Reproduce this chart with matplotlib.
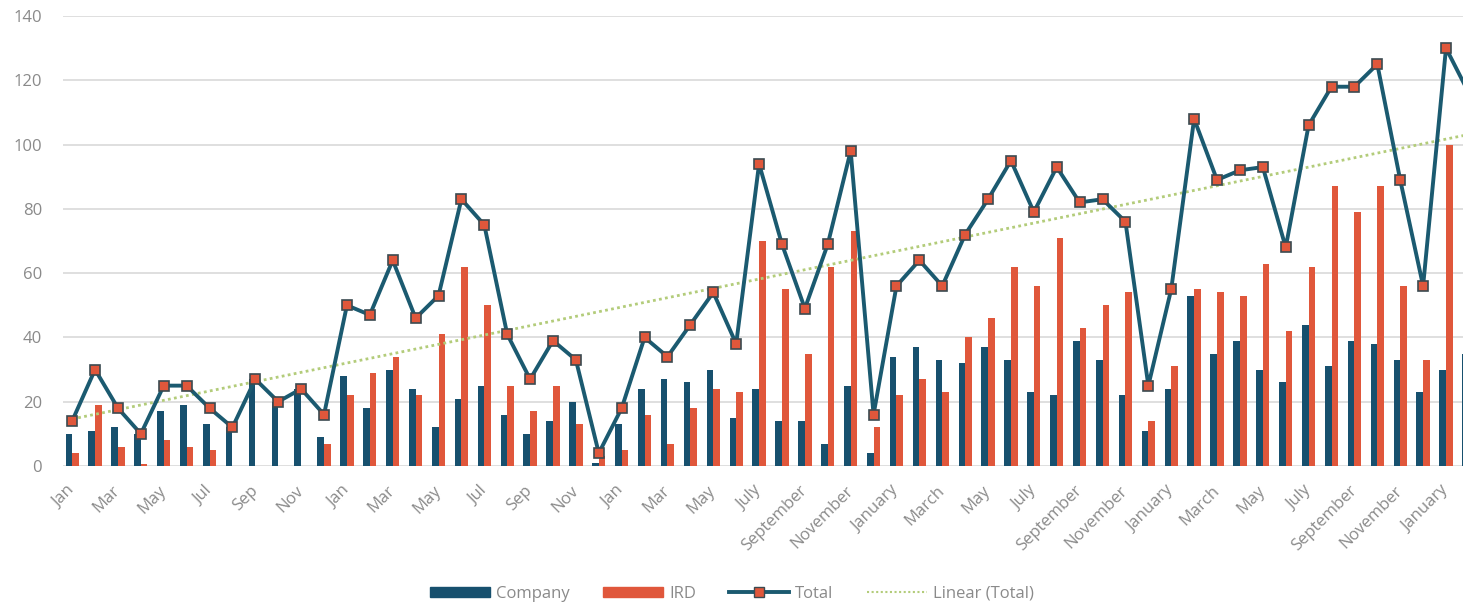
# Monthly counts: Company vs IRD, with Total line and linear trend
import numpy as np
import matplotlib.pyplot as plt
from matplotlib.lines import Line2D
from matplotlib.patches import Patch

plt.rcParams['font.family'] = ['Open Sans', 'DejaVu Sans']

# ------------------------------------------------------------------
# Data (62 months; the last one is cut off)
# ------------------------------------------------------------------
months_short = ['Jan', 'Feb', 'Mar', 'Apr', 'May', 'Jun',
                'Jul', 'Aug', 'Sep', 'Oct', 'Nov', 'Dec']
months_mixed = ['Jan', 'Feb', 'Mar', 'Apr', 'May', 'Jun',
                'July', 'August', 'September', 'October', 'November', 'December']
months_long = ['January', 'February', 'March', 'April', 'May', 'June',
               'July', 'August', 'September', 'October', 'November', 'December']
month_labels = (months_short * 2 + months_mixed + months_long * 2
                + ['January', 'February'])

company = [10, 11, 12, 10, 17, 19, 13, 12, 27, 20, 24, 9,
           28, 18, 30, 24, 12, 21, 25, 16, 10, 14, 20, 1,
           13, 24, 27, 26, 30, 15, 24, 14, 14, 7, 25, 4,
           34, 37, 33, 32, 37, 33, 23, 22, 39, 33, 22, 11,
           24, 53, 35, 39, 30, 26, 44, 31, 39, 38, 33, 23,
           30, 35]

ird = [4, 19, 6, 0.5, 8, 6, 5, 0, 0, 0, 0, 7,
       22, 29, 34, 22, 41, 62, 50, 25, 17, 25, 13, 3,
       5, 16, 7, 18, 24, 23, 70, 55, 35, 62, 73, 12,
       22, 27, 23, 40, 46, 62, 56, 71, 43, 50, 54, 14,
       31, 55, 54, 53, 63, 42, 62, 87, 79, 87, 56, 33,
       100, 81]

total = [14, 30, 18, 10, 25, 25, 18, 12, 27, 20, 24, 16,
         50, 47, 64, 46, 53, 83, 75, 41, 27, 39, 33, 4,
         18, 40, 34, 44, 54, 38, 94, 69, 49, 69, 98, 16,
         56, 64, 56, 72, 83, 95, 79, 93, 82, 83, 76, 25,
         55, 108, 89, 92, 93, 68, 106, 118, 118, 125, 89, 56,
         130, 116]

# ------------------------------------------------------------------
# Styling
# ------------------------------------------------------------------
c_company = '#17506e'
c_ird = '#e0573b'
c_line = '#1b5a70'
c_marker = '#e0573b'
c_trend = '#b3cc7a'
c_text = '#8a8a8a'
c_grid = '#d9d9d9'

x = np.arange(len(total))
bw = 0.29

# linear trendline of Total (Excel-style "Linear (Total)")
slope, icept = np.polyfit(x, total, 1)
trend = slope * x + icept

fig = plt.figure(figsize=(14.63, 6.06), dpi=100)
ax = fig.add_axes([63 / 1463, 140 / 606, 1 - 63 / 1463, 450 / 606])

ax.bar(x - bw / 2, company, width=bw, color=c_company, zorder=2)
ax.bar(x + bw / 2, ird, width=bw, color=c_ird, zorder=2)
ax.plot(x, trend, color=c_trend, linestyle=(0, (1, 1.2)), linewidth=2, zorder=3)
ax.plot(x, total, color=c_line, linewidth=2.8, marker='s', markersize=7,
        markerfacecolor=c_marker, markeredgecolor='#3b4a50', markeredgewidth=1.2,
        zorder=4)

ax.set_ylim(0, 140)
ax.set_yticks(np.arange(0, 141, 20))
ax.set_xlim(-0.4, (1463 - 72) / 22.9)
ax.set_xticks(x[::2])
ax.set_xticklabels(month_labels[::2], rotation=45, ha='right', va='center',
                   rotation_mode='anchor')

ax.grid(axis='y', color=c_grid, linewidth=1.2, zorder=0)
ax.set_axisbelow(True)
for s in ax.spines.values():
    s.set_visible(False)
ax.tick_params(axis='y', length=0, pad=15, labelsize=12, labelcolor=c_text)
ax.tick_params(axis='x', length=0, pad=16, labelsize=12, labelcolor=c_text)

handles = [
    Patch(color=c_company),
    Patch(color=c_ird),
    Line2D([], [], color=c_line, linewidth=2.8, marker='s', markersize=7,
           markerfacecolor=c_marker, markeredgecolor='#3b4a50'),
    Line2D([], [], color=c_trend, linestyle=(0, (1, 1.2)), linewidth=1.5),
]
fig.legend(handles, ['Company', 'IRD', 'Total', 'Linear (Total)'],
           loc='center', bbox_to_anchor=(732 / 1463, 1 - 594 / 606), ncol=4,
           frameon=False, fontsize=12, labelcolor=c_text, handlelength=3.6,
           handleheight=0.6, handletextpad=0.35, columnspacing=2.0, numpoints=1)

fig.savefig('out.png', dpi=100)
